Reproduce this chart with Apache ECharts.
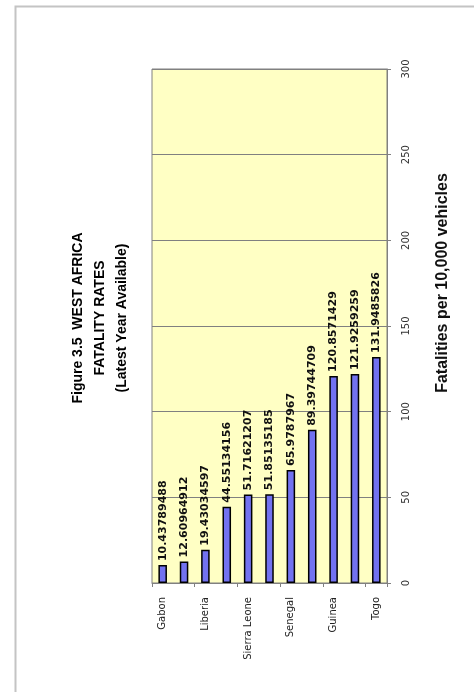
<!DOCTYPE html>
<html>
<head>
<meta charset="utf-8">
<script src="https://cdn.jsdelivr.net/npm/echarts@6/dist/echarts.min.js"></script>
<style>
html,body{margin:0;padding:0;background:#fff;}
#chart{width:474px;height:692px;}
</style>
</head>
<body>
<div id="chart"></div>
<script>
var categories = ["Gabon", "Ghana", "Liberia", "Mali", "Sierra Leone", "Niger", "Senegal", "Benin", "Guinea", "Côte d'Ivoire", "Togo"];
var fatalityRates = [10.43789488, 12.60964912, 19.43034597, 44.55134156, 51.71621207, 51.85135185, 65.9787967, 89.39744709, 120.8571429, 121.9259259, 131.9485826];
var titleLines = ["Figure 3.5  WEST AFRICA", "FATALITY RATES", "(Latest Year Available)"];
var axisTitle = "Fatalities per 10,000 vehicles";
var valueMin = 0, valueMax = 300, valueStep = 50;

var chart = echarts.init(document.getElementById('chart'), null, {renderer: 'canvas'});
var font = 'Liberation Sans, Arial, sans-serif';
var titleX = [78, 100, 122];

var graphics = [{
  type: 'rect', left: 13, top: 4, silent: true,
  shape: {x: 0, y: 0, width: 470, height: 687},
  style: {fill: 'none', stroke: '#c4c4c4', lineWidth: 2}
}];
titleLines.forEach(function (t, i) {
  graphics.push({
    type: 'text', x: titleX[i], y: 318, rotation: Math.PI / 2,
    style: {text: t, font: 'bold 14px ' + font, fill: '#000', textAlign: 'center', textVerticalAlign: 'middle'}
  });
});

chart.setOption({
  animation: false,
  backgroundColor: '#fff',
  grid: {left: 152, right: 87, top: 69, bottom: 109, show: true, backgroundColor: '#ffffc4', borderColor: '#808080', borderWidth: 1},
  graphic: graphics,
  xAxis: {
    type: 'category', data: categories,
    axisLine: {lineStyle: {color: '#808080'}},
    axisTick: {show: true, length: 4, lineStyle: {color: '#808080'}},
    axisLabel: {interval: 1, rotate: 90, margin: 14, fontSize: 10, fontFamily: 'DejaVu Sans', color: '#222'}
  },
  yAxis: {
    type: 'value', position: 'right', min: valueMin, max: valueMax, interval: valueStep,
    name: axisTitle, nameLocation: 'middle', nameGap: 48,
    nameTextStyle: {fontSize: 16, fontWeight: 'bold', fontFamily: font, color: '#111', padding: [0, 0, 0, 86]},
    axisLine: {show: true, lineStyle: {color: '#808080'}},
    axisTick: {show: true, length: 4, lineStyle: {color: '#808080'}},
    axisLabel: {rotate: 90, margin: 14, fontSize: 10, fontFamily: 'DejaVu Sans', color: '#333'},
    splitLine: {show: true, lineStyle: {color: '#808080', width: 1}}
  },
  series: [{
    type: 'bar', data: fatalityRates, barWidth: '40%',
    itemStyle: {color: '#7272f0', borderColor: '#000', borderWidth: 1.5},
    label: {
      show: true, position: 'top', rotate: 90, align: 'left', verticalAlign: 'middle', distance: 4,
      fontSize: 11, fontWeight: 'bold', fontFamily: 'DejaVu Sans', color: '#111',
      formatter: function (p) { return String(p.value); }
    }
  }]
});
</script>
</body>
</html>
